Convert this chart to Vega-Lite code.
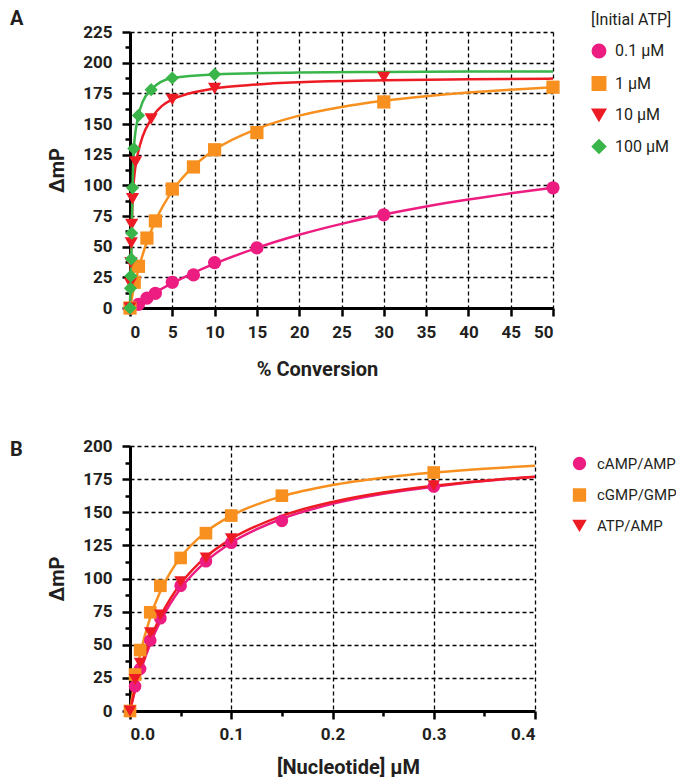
{
  "$schema": "https://vega.github.io/schema/vega-lite/v6.json",
  "padding": {"left": 10, "top": 9, "right": 0, "bottom": 0},
  "config": {
    "font": "Roboto",
    "view": {"stroke": null},
    "axis": {
      "domainColor": "black", "domainWidth": 3,
      "tickColor": "black", "tickWidth": 2.5, "tickSize": 8,
      "labelFont": "Roboto", "labelFontSize": 17, "labelFontWeight": "bold", "labelColor": "#231F20",
      "titleFont": "Roboto", "titleFontSize": 20, "titleFontWeight": "bold", "titleColor": "#231F20",
      "grid": true, "gridColor": "black", "gridDash": [4, 3], "gridWidth": 1.3
    },
    "legend": {
      "labelFont": "Roboto", "titleFont": "Roboto",
      "labelColor": "#231F20", "titleColor": "#231F20", "padding": 0
    },
    "title": {"font": "Roboto", "fontSize": 20, "fontWeight": "bold", "color": "#231F20"}
  },
  "datasets": {
    "aPts": [
      {"s": "0.1 µM", "x": 0, "y": 0}, {"s": "0.1 µM", "x": 1, "y": 3}, {"s": "0.1 µM", "x": 2, "y": 8}, {"s": "0.1 µM", "x": 3, "y": 12},
      {"s": "0.1 µM", "x": 5, "y": 21}, {"s": "0.1 µM", "x": 7.5, "y": 27}, {"s": "0.1 µM", "x": 10, "y": 37}, {"s": "0.1 µM", "x": 15, "y": 49},
      {"s": "0.1 µM", "x": 30, "y": 76}, {"s": "0.1 µM", "x": 50, "y": 98},
      {"s": "1 µM", "x": 0, "y": 0}, {"s": "1 µM", "x": 0.5, "y": 21}, {"s": "1 µM", "x": 1, "y": 34}, {"s": "1 µM", "x": 2, "y": 57},
      {"s": "1 µM", "x": 3, "y": 71}, {"s": "1 µM", "x": 5, "y": 97}, {"s": "1 µM", "x": 7.5, "y": 115}, {"s": "1 µM", "x": 10, "y": 129},
      {"s": "1 µM", "x": 15, "y": 143}, {"s": "1 µM", "x": 30, "y": 168}, {"s": "1 µM", "x": 50, "y": 180},
      {"s": "10 µM", "x": 0, "y": 0}, {"s": "10 µM", "x": 0.05, "y": 20}, {"s": "10 µM", "x": 0.1, "y": 37}, {"s": "10 µM", "x": 0.15, "y": 53},
      {"s": "10 µM", "x": 0.2, "y": 68}, {"s": "10 µM", "x": 0.3, "y": 89}, {"s": "10 µM", "x": 0.65, "y": 119}, {"s": "10 µM", "x": 2.5, "y": 154},
      {"s": "10 µM", "x": 5, "y": 170}, {"s": "10 µM", "x": 10, "y": 179}, {"s": "10 µM", "x": 30, "y": 188},
      {"s": "100 µM", "x": 0, "y": 0}, {"s": "100 µM", "x": 0.05, "y": 16}, {"s": "100 µM", "x": 0.1, "y": 26}, {"s": "100 µM", "x": 0.15, "y": 40},
      {"s": "100 µM", "x": 0.2, "y": 61}, {"s": "100 µM", "x": 0.3, "y": 98}, {"s": "100 µM", "x": 0.45, "y": 130}, {"s": "100 µM", "x": 1, "y": 157},
      {"s": "100 µM", "x": 2.5, "y": 178}, {"s": "100 µM", "x": 5, "y": 187.5}, {"s": "100 µM", "x": 10, "y": 190.5}
    ],
    "aCurve": [
      {"s": "0.1 µM", "x": 0, "y": 0}, {"s": "0.1 µM", "x": 1, "y": 4.5}, {"s": "0.1 µM", "x": 2, "y": 8.7}, {"s": "0.1 µM", "x": 3, "y": 12.7},
      {"s": "0.1 µM", "x": 5, "y": 20.2}, {"s": "0.1 µM", "x": 7.5, "y": 28.6}, {"s": "0.1 µM", "x": 10, "y": 36.1}, {"s": "0.1 µM", "x": 15, "y": 49},
      {"s": "0.1 µM", "x": 20, "y": 59.7}, {"s": "0.1 µM", "x": 25, "y": 68.6}, {"s": "0.1 µM", "x": 30, "y": 76.2}, {"s": "0.1 µM", "x": 35, "y": 82.8},
      {"s": "0.1 µM", "x": 40, "y": 88.5}, {"s": "0.1 µM", "x": 45, "y": 93.5}, {"s": "0.1 µM", "x": 50, "y": 98},
      {"s": "1 µM", "x": 0, "y": 0}, {"s": "1 µM", "x": 0.5, "y": 17.5}, {"s": "1 µM", "x": 1, "y": 31.5}, {"s": "1 µM", "x": 2, "y": 54},
      {"s": "1 µM", "x": 3, "y": 71}, {"s": "1 µM", "x": 5, "y": 95.5}, {"s": "1 µM", "x": 7.5, "y": 115.4}, {"s": "1 µM", "x": 10, "y": 129},
      {"s": "1 µM", "x": 15, "y": 146}, {"s": "1 µM", "x": 20, "y": 156.8}, {"s": "1 µM", "x": 25, "y": 163.9}, {"s": "1 µM", "x": 30, "y": 168.9},
      {"s": "1 µM", "x": 35, "y": 172.6}, {"s": "1 µM", "x": 40, "y": 175.6}, {"s": "1 µM", "x": 45, "y": 178}, {"s": "1 µM", "x": 50, "y": 180},
      {"s": "10 µM", "x": 0, "y": 0}, {"s": "10 µM", "x": 0.1, "y": 37}, {"s": "10 µM", "x": 0.2, "y": 66}, {"s": "10 µM", "x": 0.3, "y": 87},
      {"s": "10 µM", "x": 0.6, "y": 113}, {"s": "10 µM", "x": 1, "y": 128}, {"s": "10 µM", "x": 1.5, "y": 140}, {"s": "10 µM", "x": 2.5, "y": 154},
      {"s": "10 µM", "x": 5, "y": 170}, {"s": "10 µM", "x": 10, "y": 179}, {"s": "10 µM", "x": 15, "y": 182.2}, {"s": "10 µM", "x": 20, "y": 184},
      {"s": "10 µM", "x": 30, "y": 185.6}, {"s": "10 µM", "x": 40, "y": 186.4}, {"s": "10 µM", "x": 50, "y": 187},
      {"s": "100 µM", "x": 0, "y": 0}, {"s": "100 µM", "x": 0.05, "y": 16}, {"s": "100 µM", "x": 0.1, "y": 26}, {"s": "100 µM", "x": 0.15, "y": 40},
      {"s": "100 µM", "x": 0.2, "y": 61}, {"s": "100 µM", "x": 0.3, "y": 98}, {"s": "100 µM", "x": 0.45, "y": 130}, {"s": "100 µM", "x": 1, "y": 157},
      {"s": "100 µM", "x": 1.5, "y": 168}, {"s": "100 µM", "x": 2.5, "y": 178}, {"s": "100 µM", "x": 5, "y": 187.5}, {"s": "100 µM", "x": 10, "y": 190.4},
      {"s": "100 µM", "x": 20, "y": 191.9}, {"s": "100 µM", "x": 30, "y": 192.4}, {"s": "100 µM", "x": 40, "y": 192.7}, {"s": "100 µM", "x": 50, "y": 192.8}
    ],
    "bPts": [
      {"s": "cAMP/AMP", "x": 0, "y": 0}, {"s": "cAMP/AMP", "x": 0.005, "y": 18.7}, {"s": "cAMP/AMP", "x": 0.01, "y": 31.8}, {"s": "cAMP/AMP", "x": 0.02, "y": 53.3},
      {"s": "cAMP/AMP", "x": 0.03, "y": 70}, {"s": "cAMP/AMP", "x": 0.05, "y": 94.5}, {"s": "cAMP/AMP", "x": 0.075, "y": 113}, {"s": "cAMP/AMP", "x": 0.1, "y": 127},
      {"s": "cAMP/AMP", "x": 0.15, "y": 143.5}, {"s": "cAMP/AMP", "x": 0.3, "y": 169.5},
      {"s": "cGMP/GMP", "x": 0, "y": 0}, {"s": "cGMP/GMP", "x": 0.005, "y": 27.5}, {"s": "cGMP/GMP", "x": 0.01, "y": 46}, {"s": "cGMP/GMP", "x": 0.02, "y": 74.5},
      {"s": "cGMP/GMP", "x": 0.03, "y": 94.5}, {"s": "cGMP/GMP", "x": 0.05, "y": 115.5}, {"s": "cGMP/GMP", "x": 0.075, "y": 134.2}, {"s": "cGMP/GMP", "x": 0.1, "y": 147.5},
      {"s": "cGMP/GMP", "x": 0.15, "y": 162.5}, {"s": "cGMP/GMP", "x": 0.3, "y": 180},
      {"s": "ATP/AMP", "x": 0, "y": 0}, {"s": "ATP/AMP", "x": 0.005, "y": 23.7}, {"s": "ATP/AMP", "x": 0.01, "y": 36}, {"s": "ATP/AMP", "x": 0.02, "y": 59},
      {"s": "ATP/AMP", "x": 0.03, "y": 72.5}, {"s": "ATP/AMP", "x": 0.05, "y": 97.5}, {"s": "ATP/AMP", "x": 0.075, "y": 115.5}, {"s": "ATP/AMP", "x": 0.1, "y": 130},
      {"s": "ATP/AMP", "x": 0.3, "y": 170}
    ],
    "bCurve": [
      {"s": "cAMP/AMP", "x": 0, "y": 0}, {"s": "cAMP/AMP", "x": 0.005, "y": 15.6}, {"s": "cAMP/AMP", "x": 0.01, "y": 29}, {"s": "cAMP/AMP", "x": 0.02, "y": 50.8},
      {"s": "cAMP/AMP", "x": 0.03, "y": 67.7}, {"s": "cAMP/AMP", "x": 0.04, "y": 81.3}, {"s": "cAMP/AMP", "x": 0.05, "y": 92.4}, {"s": "cAMP/AMP", "x": 0.075, "y": 112.9},
      {"s": "cAMP/AMP", "x": 0.1, "y": 127}, {"s": "cAMP/AMP", "x": 0.15, "y": 145.1}, {"s": "cAMP/AMP", "x": 0.2, "y": 156.3}, {"s": "cAMP/AMP", "x": 0.25, "y": 163.9},
      {"s": "cAMP/AMP", "x": 0.3, "y": 169.3}, {"s": "cAMP/AMP", "x": 0.35, "y": 173.5}, {"s": "cAMP/AMP", "x": 0.4, "y": 176.7},
      {"s": "cGMP/GMP", "x": 0, "y": 0}, {"s": "cGMP/GMP", "x": 0.005, "y": 24}, {"s": "cGMP/GMP", "x": 0.01, "y": 42.9}, {"s": "cGMP/GMP", "x": 0.02, "y": 70.7},
      {"s": "cGMP/GMP", "x": 0.03, "y": 90.3}, {"s": "cGMP/GMP", "x": 0.04, "y": 104.8}, {"s": "cGMP/GMP", "x": 0.05, "y": 116}, {"s": "cGMP/GMP", "x": 0.075, "y": 135.2},
      {"s": "cGMP/GMP", "x": 0.1, "y": 147.4}, {"s": "cGMP/GMP", "x": 0.15, "y": 162.1}, {"s": "cGMP/GMP", "x": 0.2, "y": 170.6}, {"s": "cGMP/GMP", "x": 0.25, "y": 176.1},
      {"s": "cGMP/GMP", "x": 0.3, "y": 180}, {"s": "cGMP/GMP", "x": 0.35, "y": 182.9}, {"s": "cGMP/GMP", "x": 0.4, "y": 185.1},
      {"s": "ATP/AMP", "x": 0, "y": 0}, {"s": "ATP/AMP", "x": 0.005, "y": 16.9}, {"s": "ATP/AMP", "x": 0.01, "y": 31.1}, {"s": "ATP/AMP", "x": 0.02, "y": 53.9},
      {"s": "ATP/AMP", "x": 0.03, "y": 71.2}, {"s": "ATP/AMP", "x": 0.04, "y": 84.9}, {"s": "ATP/AMP", "x": 0.05, "y": 96}, {"s": "ATP/AMP", "x": 0.075, "y": 116.3},
      {"s": "ATP/AMP", "x": 0.1, "y": 129.9}, {"s": "ATP/AMP", "x": 0.15, "y": 147.3}, {"s": "ATP/AMP", "x": 0.2, "y": 157.8}, {"s": "ATP/AMP", "x": 0.25, "y": 164.9},
      {"s": "ATP/AMP", "x": 0.3, "y": 170}, {"s": "ATP/AMP", "x": 0.35, "y": 173.8}, {"s": "ATP/AMP", "x": 0.4, "y": 176.8}
    ]
  },
  "spacing": 58,
  "resolve": {
    "scale": {"x": "independent", "y": "independent", "color": "independent", "shape": "independent"},
    "legend": {"color": "independent", "shape": "independent"}
  },
  "vconcat": [
    {
      "width": 423, "height": 276,
      "title": {"text": "A", "anchor": "start", "frame": "group", "dx": -120, "dy": 21},
      "encoding": {
        "x": {"field": "x", "type": "quantitative", "scale": {"domain": [0, 50], "nice": false},
          "axis": {"title": "% Conversion", "values": [0, 5, 10, 15, 20, 25, 30, 35, 40, 45, 50], "labelPadding": 8, "titlePadding": 19, "titleX": 187}},
        "y": {"field": "y", "type": "quantitative", "scale": {"domain": [0, 225], "nice": false},
          "axis": {"title": "ΔmP", "values": [0, 12.5, 25, 37.5, 50, 62.5, 75, 87.5, 100, 112.5, 125, 137.5, 150, 162.5, 175, 187.5, 200, 212.5, 225],
            "labelExpr": "datum.value % 25 === 0 ? datum.label : ''",
            "tickSize": {"condition": {"test": "datum.value % 25 !== 0", "value": 5}, "value": 8},
            "gridOpacity": {"condition": {"test": "datum.value % 25 !== 0", "value": 0}, "value": 1},
            "labelPadding": 10, "titlePadding": 15}},
        "color": {"field": "s", "type": "nominal",
          "scale": {"domain": ["0.1 µM", "1 µM", "10 µM", "100 µM"], "range": ["#EC1C80", "#F7901E", "#ED1C24", "#39B54A"]},
          "legend": {"title": "[Initial ATP]", "orient": "none", "legendX": 461, "legendY": -20, "titleFontSize": 16, "titleFontWeight": "normal",
            "labelFontSize": 16, "symbolSize": 180, "rowPadding": 12.5, "titlePadding": 15, "labelOffset": 8}}
      },
      "layer": [
        {
          "data": {"name": "aCurve"},
          "mark": {"type": "line", "interpolate": "monotone", "strokeWidth": 2.5}
        },
        {
          "data": {"name": "aPts"},
          "mark": {"type": "point", "filled": true, "opacity": 1, "size": 175},
          "encoding": {
            "shape": {"field": "s", "type": "nominal",
              "scale": {"domain": ["0.1 µM", "1 µM", "10 µM", "100 µM"], "range": ["circle", "square", "triangle-down", "diamond"]},
              "legend": {"title": "[Initial ATP]", "orient": "none", "legendX": 461, "legendY": -20, "titleFontSize": 16, "titleFontWeight": "normal",
                "labelFontSize": 16, "symbolSize": 180, "rowPadding": 12.5, "titlePadding": 15, "labelOffset": 8}}
          }
        }
      ]
    },
    {
      "width": 405, "height": 265,
      "title": {"text": "B", "anchor": "start", "frame": "group", "dx": -120, "dy": 27},
      "encoding": {
        "x": {"field": "x", "type": "quantitative", "scale": {"domain": [0, 0.4], "nice": false},
          "axis": {"title": "[Nucleotide] µM", "values": [0, 0.05, 0.1, 0.15, 0.2, 0.25, 0.3, 0.35, 0.4], "format": ".1f",
            "labelExpr": "round(datum.value * 20) % 2 === 1 ? '' : datum.label",
            "tickSize": {"condition": {"test": "round(datum.value * 20) % 2 === 1", "value": 5}, "value": 8},
            "gridOpacity": {"condition": {"test": "round(datum.value * 20) % 2 === 1", "value": 0}, "value": 1},
            "labelPadding": 7, "titlePadding": 15, "titleX": 218}},
        "y": {"field": "y", "type": "quantitative", "scale": {"domain": [0, 200], "nice": false},
          "axis": {"title": "ΔmP", "values": [0, 12.5, 25, 37.5, 50, 62.5, 75, 87.5, 100, 112.5, 125, 137.5, 150, 162.5, 175, 187.5, 200],
            "labelExpr": "datum.value % 25 === 0 ? datum.label : ''",
            "tickSize": {"condition": {"test": "datum.value % 25 !== 0", "value": 5}, "value": 8},
            "gridOpacity": {"condition": {"test": "datum.value % 25 !== 0", "value": 0}, "value": 1},
            "labelPadding": 10, "titlePadding": 15}},
        "color": {"field": "s", "type": "nominal",
          "scale": {"domain": ["cAMP/AMP", "cGMP/GMP", "ATP/AMP"], "range": ["#EC1C80", "#F7901E", "#ED1C24"]},
          "legend": {"title": null, "orient": "none", "legendX": 442, "legendY": 10, "labelFontSize": 15, "symbolSize": 140, "rowPadding": 12.5, "labelOffset": 10}}
      },
      "layer": [
        {
          "data": {"name": "bCurve"},
          "mark": {"type": "line", "interpolate": "monotone", "strokeWidth": 2.5}
        },
        {
          "data": {"name": "bPts"},
          "mark": {"type": "point", "filled": true, "opacity": 1, "size": 160},
          "encoding": {
            "shape": {"field": "s", "type": "nominal",
              "scale": {"domain": ["cAMP/AMP", "cGMP/GMP", "ATP/AMP"], "range": ["circle", "square", "triangle-down"]},
              "legend": {"title": null, "orient": "none", "legendX": 442, "legendY": 10, "labelFontSize": 15, "symbolSize": 140, "rowPadding": 12.5, "labelOffset": 10}}
          }
        }
      ]
    }
  ]
}
